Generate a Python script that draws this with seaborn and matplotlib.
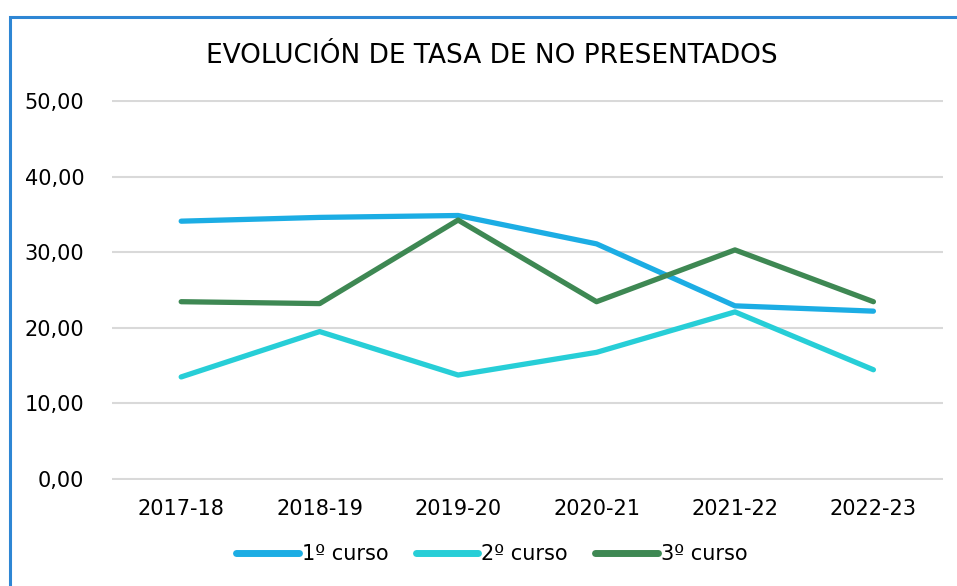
import matplotlib
matplotlib.use("Agg")
import matplotlib.pyplot as plt
from matplotlib.patches import Rectangle
from matplotlib.ticker import FuncFormatter
import pandas as pd
import seaborn as sns

# Datos
cursos = ["2017-18", "2018-19", "2019-20", "2020-21", "2021-22", "2022-23"]
primero = [34.1, 34.6, 34.85, 31.1, 22.9, 22.2]
segundo = [13.5, 19.5, 13.75, 16.75, 22.1, 14.45]
tercero = [23.45, 23.2, 34.25, 23.45, 30.3, 23.45]
series = ["1º curso", "2º curso", "3º curso"]
colores = ["#1CADE4", "#27CED7", "#3E8853"]

df = pd.DataFrame({
    "curso": cursos * 3,
    "tasa": primero + segundo + tercero,
    "serie": [s for s in series for _ in cursos],
})

sns.set_theme(style="white")
plt.rcParams["font.family"] = ["DejaVu Sans"]

fig = plt.figure(figsize=(9.57, 5.86), dpi=100)
# eje con un pequeño margen para que la línea de 50 no quede recortada
ax = fig.add_axes([0.117, 0.1813, 0.868, 0.6477])

sns.lineplot(data=df, x="curso", y="tasa", hue="serie", hue_order=series,
             palette=colores, linewidth=3.8, sort=False, ax=ax,
             solid_capstyle="round")

ax.set_xlim(-0.5, 5.5)
ax.set_ylim(-0.1, 50.1)
ax.set_yticks([0, 10, 20, 30, 40, 50])
ax.yaxis.set_major_formatter(FuncFormatter(lambda v, p: f"{v:.2f}".replace(".", ",")))
ax.grid(axis="y", color="#D9D9D9", linewidth=1.5)
ax.set_axisbelow(True)
for s in ax.spines.values():
    s.set_visible(False)
ax.tick_params(axis="both", length=0, labelsize=15, colors="black")
ax.tick_params(axis="x", pad=14)
ax.tick_params(axis="y", pad=20)
ax.set_xlabel("")
ax.set_ylabel("")

# título y leyenda centrados en el recuadro, no en el eje
fig.text(0.514, 0.904, "EVOLUCIÓN DE TASA DE NO PRESENTADOS", ha="center",
         va="center", fontsize=19, color="black")

leg = ax.legend(loc="center", bbox_to_anchor=(0.514, 0.054),
                bbox_transform=fig.transFigure, ncol=3, frameon=False,
                fontsize=15, handlelength=3.0, handletextpad=0.15, columnspacing=1.3)
for t in leg.get_texts():
    t.set_color("black")
for ln in leg.get_lines():
    ln.set_linewidth(5)
    ln.set_solid_capstyle("round")

fig.patches.append(Rectangle((10 / 957, -0.01), 0.995, 1 - 17 / 586 + 0.01,
                             transform=fig.transFigure, fill=False,
                             edgecolor="#2E86D4", linewidth=2.2))

fig.savefig("out.png", dpi=100)
